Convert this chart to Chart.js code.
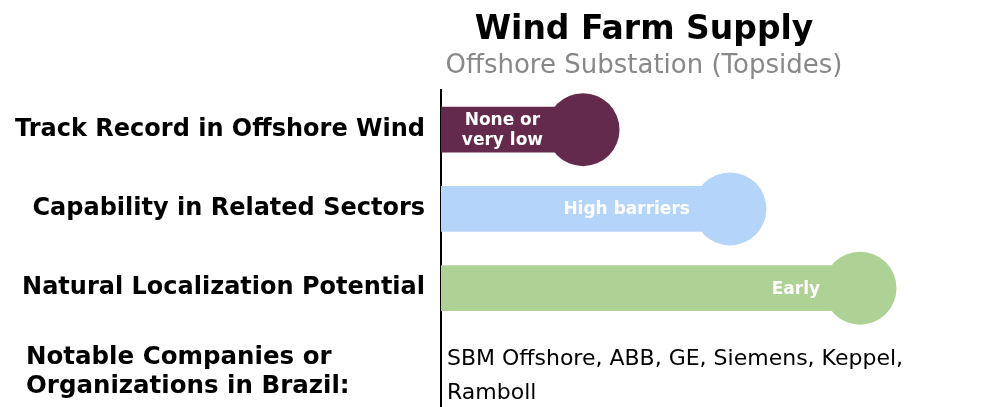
<!DOCTYPE html>
<html lang="en">
<head>
  <meta charset="UTF-8" />
  <title>Wind Farm Supply</title>
  <script src="https://cdn.jsdelivr.net/npm/chart.js@4/dist/chart.umd.min.js"></script>
  <style>
    html, body { margin: 0; padding: 0; background: #fff; }
    #wrap { width: 995px; height: 407px; }
  </style>
</head>
<body>
  <div id="wrap"><canvas id="chart"></canvas></div>
  <script>
// data
const categories = ['Track Record in Offshore Wind', 'Capability in Related Sectors', 'Natural Localization Potential', 'Notable Companies or|Organizations in Brazil:']
const scores = [26.3, 53.5, 77.6, null]
const barLabels = [['None or', 'very low'], ['High barriers'], ['Early'], []]
const companies = ['SBM Offshore, ABB, GE, Siemens, Keppel,', 'Ramboll']
const colors = ['#632a4b', '#b4d4fa', '#aed195', 'rgba(0,0,0,0)']

const FONT = '"DejaVu Sans", Verdana, sans-serif'

// title, subtitle, in-bar labels, last row text
const extras = {
  id: 'extras',
  afterDatasetsDraw(chart) {
    const ctx = chart.ctx
    const y = chart.scales.y
    ctx.save()

    ctx.textAlign = 'center'
    ctx.textBaseline = 'alphabetic'
    ctx.fillStyle = '#000'
    ctx.font = 'bold 33px ' + FONT
    ctx.fillText('Wind Farm Supply', 644, 39)
    ctx.fillStyle = '#888'
    ctx.font = '26px ' + FONT
    ctx.fillText('Offshore Substation (Topsides)', 644, 73)

    // labels inside the bars
    ctx.textBaseline = 'middle'
    const meta = chart.getDatasetMeta(0)
    ctx.fillStyle = '#fff'
    ctx.font = 'bold 17px ' + FONT
    meta.data.forEach((bar, i) => {
      const lines = barLabels[i]
      if (!lines.length) return
      const w = Math.max(...lines.map(l => ctx.measureText(l).width))
      const cx = bar.x - 40 - w / 2
      lines.forEach((l, k) => {
        ctx.fillText(l, cx, bar.y + 1 + (k - (lines.length - 1) / 2) * 20)
      })
    })

    // last row: left label + company list
    const yc = y.getPixelForValue(3)
    ctx.textAlign = 'left'
    ctx.fillStyle = '#000'
    ctx.font = 'bold 24.5px ' + FONT
    categories[3].split('|').forEach((l, k) => ctx.fillText(l, 26, yc - 10 + k * 29))
    ctx.font = '22px ' + FONT
    companies.forEach((l, k) => ctx.fillText(l, 447, yc - 8 + k * 34))
    ctx.restore()
  }
}

new Chart(document.getElementById('chart'), {
  type: 'bar',
  data: {
    labels: categories,
    datasets: [{
      data: scores,
      backgroundColor: colors,
      barThickness: 45,
      order: 2
    }, {
      type: 'line',
      indexAxis: 'y',
      data: scores,
      showLine: false,
      pointRadius: 36.5,
      pointHoverRadius: 36.5,
      pointBorderWidth: 0,
      pointBackgroundColor: colors,
      clip: false,
      order: 1
    }]
  },
  options: {
    indexAxis: 'y',
    responsive: true,
    maintainAspectRatio: false,
    animation: false,
    layout: { autoPadding: false, padding: { top: 90, right: 14, left: 0, bottom: 0 } },
    plugins: {
      legend: { display: false },
      tooltip: { enabled: false }
    },
    scales: {
      x: { display: false, min: 0, max: 100 },
      y: {
        grid: { display: false, drawTicks: false },
        border: { display: true, color: '#000', width: 2 },
        afterFit(scale) {
          scale.width = 441
          // don't let tick label padding shrink the plot area
          scale.paddingTop = 0
          scale.paddingBottom = 0
        },
        ticks: {
          padding: 16,
          color: '#000',
          font: { family: FONT, size: 24, weight: 'bold' },
          callback: (v, i) => i === 3 ? '' : categories[i]
        }
      }
    }
  },
  plugins: [extras]
})
  </script>
</body>
</html>
